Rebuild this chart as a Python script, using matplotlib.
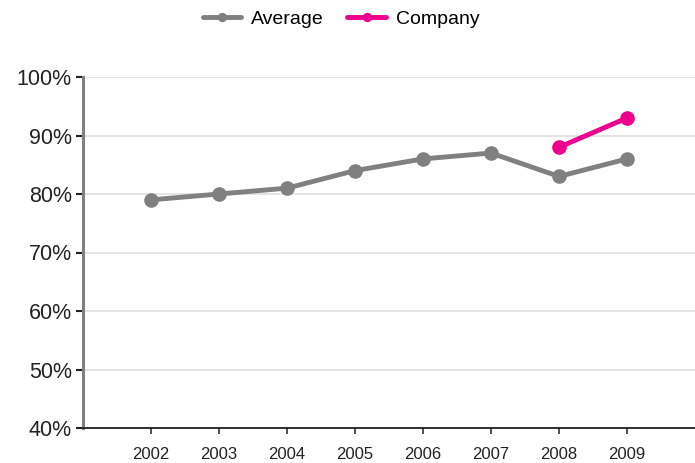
import matplotlib.pyplot as plt
from matplotlib.ticker import FuncFormatter

plt.rcParams['font.family'] = ['Liberation Sans', 'DejaVu Sans']

years = ["2002", "2003", "2004", "2005", "2006", "2007", "2008", "2009"]
average = [79, 80, 81, 84, 86, 87, 83, 86]
company_years = ["2008", "2009"]
company = [88, 93]

gray = "#808080"
pink = "#ec008c"

fig = plt.figure(figsize=(6.95, 4.63), dpi=100)
ax = fig.add_axes([83 / 695, 1 - 428 / 463, 1 - 83 / 695, (428 - 77) / 463])

x_avg = list(range(len(years)))
x_comp = [years.index(y) for y in company_years]

ax.plot(x_avg, average, color=gray, lw=3.5, marker="o", ms=9.5,
        solid_capstyle="round", label="Average", zorder=3)
ax.plot(x_comp, company, color=pink, lw=3.5, marker="o", ms=9.5,
        solid_capstyle="round", label="Company", zorder=4)

ax.set_xlim(-1, 8)
ax.set_ylim(40, 100)
ax.set_yticks(range(40, 101, 10))
ax.yaxis.set_major_formatter(FuncFormatter(lambda v, _: f"{v:.0f}%"))
ax.set_xticks(x_avg)
ax.set_xticklabels(years)

ax.grid(axis="y", color="#e2e2e2", lw=1.3)
ax.set_axisbelow(True)

for side in ("top", "right"):
    ax.spines[side].set_visible(False)
ax.spines["left"].set_color(gray)
ax.spines["left"].set_linewidth(2.2)
ax.spines["bottom"].set_color("#222222")
ax.spines["bottom"].set_linewidth(1.3)

ax.tick_params(axis="y", length=5, width=1.5, color="#222222",
               labelsize=15.5, pad=3, labelcolor="#222222")
ax.tick_params(axis="x", length=4, width=1.2, color="#333333",
               labelsize=12, pad=10, labelcolor="#222222")

fig.legend(loc="center", bbox_to_anchor=(341 / 695, 1 - 19 / 463), ncol=2,
           frameon=False, fontsize=14, handlelength=2.0, columnspacing=1.2,
           handletextpad=0.5, markerscale=0.6)

fig.savefig("out.png", dpi=100)
